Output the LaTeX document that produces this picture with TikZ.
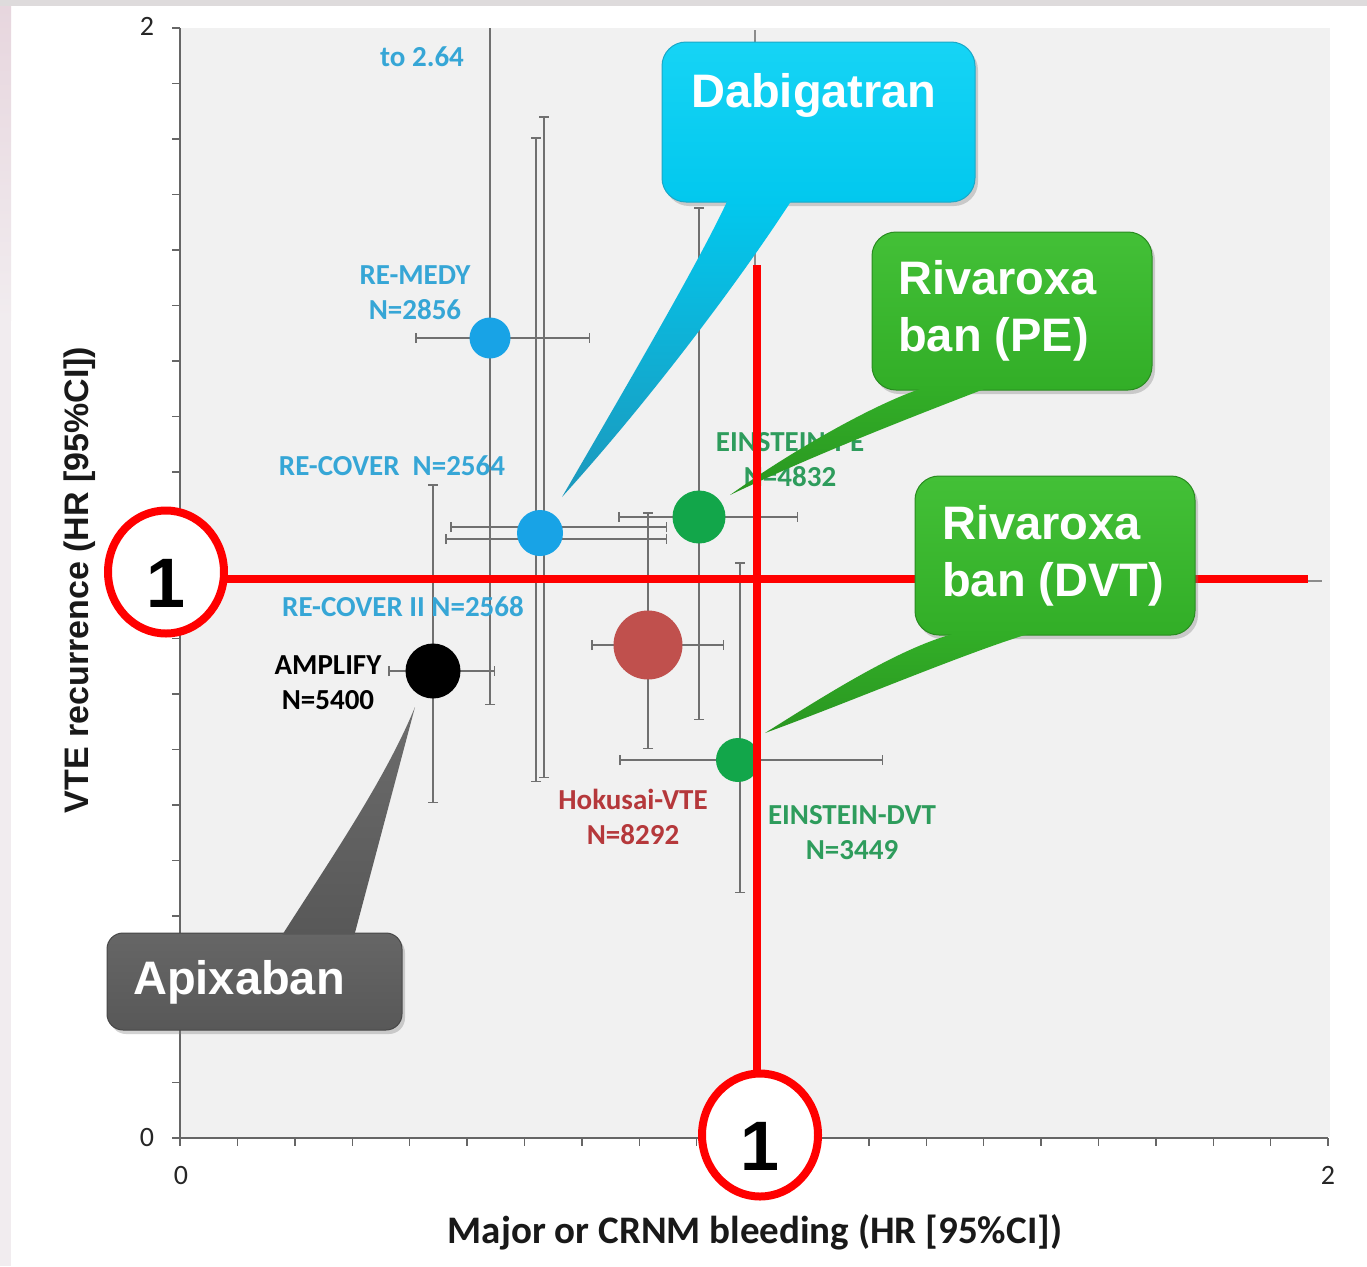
\documentclass[tikz,border=0pt]{standalone}
\usepackage{fontspec}
\setmainfont{Carlito}
\newfontfamily\arialfont{Liberation Sans}
\usetikzlibrary{calc,shapes.geometric,shadows,arrows.meta}

\pgfdeclarelayer{bg}
\pgfdeclarelayer{mid}
\pgfdeclarelayer{front}
\pgfsetlayers{bg,mid,main,front}

\definecolor{plotbg}{HTML}{F1F1F1}
\definecolor{framegray}{HTML}{DEDBDC}
\definecolor{framepink}{HTML}{E7D6DE}
\definecolor{framelight}{HTML}{F1ECEF}
\definecolor{axisgray}{HTML}{666666}
\definecolor{bargray}{HTML}{707070}
\definecolor{refgray}{HTML}{8C8C8C}
\definecolor{dotblue}{HTML}{18A3E6}
\definecolor{txtblue}{HTML}{36A6D6}
\definecolor{dotgreen}{HTML}{12A64A}
\definecolor{txtgreen}{HTML}{2E9C5C}
\definecolor{dotred}{HTML}{C0504D}
\definecolor{txtred}{HTML}{B5383B}
\definecolor{cyantop}{HTML}{16D4F5}
\definecolor{cyanbot}{HTML}{02C8EE}
\definecolor{cyanedge}{HTML}{1AA8C8}
\definecolor{cyantip}{HTML}{1C98BC}
\definecolor{greentop}{HTML}{43C037}
\definecolor{greenbot}{HTML}{32AE27}
\definecolor{greenedge}{HTML}{298B20}
\definecolor{greentip}{HTML}{2A9621}
\definecolor{graytop}{HTML}{666666}
\definecolor{graybot}{HTML}{585858}
\definecolor{grayedge}{HTML}{474747}
\definecolor{graytip}{HTML}{6C6C6C}
\definecolor{marker}{HTML}{FF0000}

\tikzset{
  axis/.style={draw=axisgray, line width=1.8pt},
  refline/.style={draw=refgray, line width=1.2pt},
  ebar/.style={draw=bargray, line width=1.5pt},
  capped/.style={ebar, {Bar[width=10pt,line width=1.5pt]}-{Bar[width=10pt,line width=1.5pt]}},
  lowcap/.style={ebar, -{Bar[width=10pt,line width=1.5pt]}},
  datapt/.style={circle, inner sep=0pt, minimum size=#1},
  tag/.style={font=\bfseries\fontsize{29}{35}\selectfont, inner sep=0pt, align=center},
  ticklabel/.style={font=\fontsize{28}{30}\selectfont, text=black!85, inner sep=0pt},
  callout/.style={rounded corners=24pt, inner sep=0pt, line width=1pt,
    drop shadow={shadow xshift=3pt, shadow yshift=-4pt, opacity=.35}},
  cyanbox/.style={callout, draw=cyanedge, top color=cyantop, bottom color=cyanbot},
  greenbox/.style={callout, draw=greenedge, top color=greentop, bottom color=greenbot},
  graybox/.style={callout, rounded corners=16pt, draw=grayedge, top color=graytop, bottom color=graybot},
  calltext/.style={font=\arialfont\bfseries\fontsize{47}{57}\selectfont, text=white, inner sep=0pt, align=left},
  redline/.style={draw=marker, line width=8pt},
  ring/.style={ellipse, draw=marker, line width=8pt, fill=white, inner sep=0pt,
    minimum width=116pt, minimum height=123pt,
    font=\arialfont\bfseries\fontsize{70}{70}\selectfont, text height=70pt, text depth=0pt},
}

\begin{document}
\begin{tikzpicture}[x=1pt,y=-1pt]
\useasboundingbox (0,0) rectangle (1367,1266);

% ---------------- chart ----------------
\begin{pgfonlayer}{bg}
  \fill[white] (0,0) rectangle (1367,1266);
  \fill[framegray] (0,0) rectangle (1367,6);
  \shade[top color=framepink, bottom color=framelight] (0,6) rectangle (11,320);
  \fill[framelight] (0,320) rectangle (11,1266);

  % plotting area
  \fill[plotbg] (181,28) rectangle (1330,1137);

  % reference lines at HR = 1
  \draw[refline] (755,30) -- (755,1138);
  \draw[refline] (180,581) -- (1322,581);

  % ticks and axes
  \foreach \k in {0,...,20} {
    \draw[axis, line width=1.4pt] (172,{1138-55.5*\k}) -- (180,{1138-55.5*\k});
    \draw[axis, line width=1.4pt] ({180+57.4*\k},1138) -- ({180+57.4*\k},1146);
  }
  \draw[axis] (180,28) -- (180,1138) -- (1328,1138);

  \node[ticklabel] (y2) at (147,26) {2};
  \node[ticklabel] (y0) at (147,1137) {0};
  \node[ticklabel] (x0) at (181,1175) {0};
  \node[ticklabel] (x2) at (1328,1175) {2};

  \node[font=\bfseries\fontsize{39}{44}\selectfont, text=black!90, inner sep=0pt] (xlab)
    at (755,1232) {Major or CRNM bleeding (HR [95\%CI])};
  \node[rotate=90, font=\arialfont\bfseries\fontsize{34}{40}\selectfont, text=black!90, inner sep=0pt] (ylab)
    at (80,580) {VTE recurrence (HR [95\%CI])};

  % confidence intervals
  \draw[capped] (415,338) -- (590,338);                     % RE-MEDY
  \draw[lowcap] (490,28) -- (490,705);
  \draw[capped] (450,527) -- (667,527);                     % RE-COVER
  \draw[capped] (445,539) -- (667,539);                     % RE-COVER II
  \draw[capped] (536,137) -- (536,782);
  \draw[capped] (544,116) -- (544,778);
  \draw[capped] (388,671) -- (495,671);                     % AMPLIFY
  \draw[capped] (433,484) -- (433,803);
  \draw[capped] (591,645) -- (724,645);                     % Hokusai-VTE
  \draw[capped] (648,512) -- (648,749);
  \draw[capped] (618,517) -- (798,517);                     % EINSTEIN-PE
  \draw[capped] (699,207) -- (699,720);
  \draw[capped] (619,760) -- (883,760);                     % EINSTEIN-DVT
  \draw[capped] (740,562) -- (740,893);

  % point estimates
  \node[datapt=41pt, fill=dotblue] (remedy) at (490,338) {};
  \node[datapt=46pt, fill=dotblue] (recover) at (540,533) {};
  \node[datapt=55pt, fill=black] (amplify) at (433,671) {};
  \node[datapt=69pt, fill=dotred] (hokusai) at (648,645) {};
  \node[datapt=53pt, fill=dotgreen] (epe) at (699,517) {};
  \node[datapt=44pt, fill=dotgreen] (edvt) at (738,760) {};

  % trial labels
  \node[tag, text=txtblue] (lcut) at (422,57) {to 2.64};
  \node[tag, text=txtblue] (lremedy) at (415,293) {RE-MEDY\\N=2856};
  \node[tag, text=txtblue] (lrecover) at (392,466) {RE-COVER\ \ N=2564};
  \node[tag, text=txtblue] (lrecover2) at (403,607) {RE-COVER II N=2568};
  \node[tag, text=black] (lamplify) at (328,683) {AMPLIFY\\N=5400};
  \node[tag, text=txtred] (lhokusai) at (633,817) {Hokusai-VTE\\N=8292};
  \node[tag, text=txtgreen] (ledvt) at (852,833) {EINSTEIN-DVT\\N=3449};
  \node[tag, text=txtgreen] (lepe) at (790,460) {EINSTEIN-PE\\N=4832};
\end{pgfonlayer}

% ---------------- callouts behind the markers ----------------
\begin{pgfonlayer}{mid}
  \node[cyanbox, minimum width=313pt, minimum height=160pt] (dabi) at (818.5,122) {};
  \coordinate (dabitip) at ($(recover)+(22,-36)$);
  \shade[top color=cyanbot, bottom color=cyantip]
    ($(dabi.south west)+(66,-2)$) .. controls (700,260) and (630,380) .. (dabitip)
    .. controls (650,400) and (740,280) .. ($(dabi.south west)+(130,-2)$) -- cycle;
  \node[calltext, anchor=base west] (dabitxt) at (691,107) {Dabigatran};

  \node[greenbox, minimum width=280pt, minimum height=158pt] (pebox) at (1012,311) {};
  \coordinate (petip) at ($(epe)+(31,-22)$);
  \shade[top color=greenbot, bottom color=greentip]
    ($(pebox.south west)+(50,-2)$) .. controls (880,402) and (800,445) .. (petip)
    .. controls (820,452) and (925,412) .. ($(pebox.south west)+(114,-2)$) -- cycle;
  \node[calltext, anchor=west] (petxt) at (898,311) {Rivaroxa\\ban (PE)};
\end{pgfonlayer}

% ---------------- markers at HR = 1 ----------------
\begin{pgfonlayer}{front}
  \node[ring] (lc) at (166,572) {1};
  \node[ring] (bc) at (760,1135) {1};
\end{pgfonlayer}
\coordinate (vtop) at (757,265);
\coordinate (hend) at (1308,579);
\draw[redline] (vtop |- bc) -- (vtop);
\draw[redline] (hend -| lc) -- (hend);

% ---------------- callouts in front ----------------
\begin{pgfonlayer}{front}
  \node[greenbox, minimum width=280pt, minimum height=159pt] (dvtbox) at (1055,555.5) {};
  \coordinate (dvttip) at ($(edvt)+(27,-27)$);
  \shade[top color=greenbot, bottom color=greentip]
    ($(dvtbox.south west)+(40,-2)$) .. controls (900,648) and (830,692) .. (dvttip)
    .. controls (850,702) and (960,655) .. ($(dvtbox.south west)+(115,-2)$) -- cycle;
  \node[calltext, anchor=west] (dvttxt) at (942,556) {Rivaroxa\\ban (DVT)};

  \node[graybox, minimum width=295pt, minimum height=97pt] (apix) at (254.5,981.5) {};
  \coordinate (apixtip) at ($(amplify)+(-18,36)$);
  \shade[top color=graytip, bottom color=graybot]
    ($(apix.north west)+(176,2)$) .. controls (330,860) and (385,780) .. (apixtip)
    -- ($(apix.north west)+(248,2)$) -- cycle;
  \node[calltext, anchor=base west] (apixtxt) at (133,994) {Apixaban};
\end{pgfonlayer}
\end{tikzpicture}
\end{document}
